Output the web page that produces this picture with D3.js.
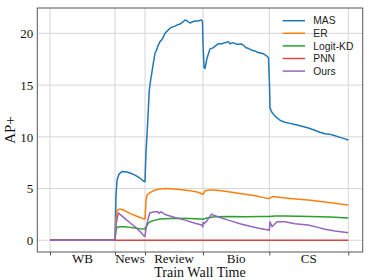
<!DOCTYPE html>
<html><head><meta charset="utf-8">
<script src="https://cdn.jsdelivr.net/npm/d3@7"></script>
<style>body{margin:0;background:#fff}svg{display:block}</style>
</head><body>
<svg id="c" width="374" height="280"></svg>
<script>
const boundaries = [0, 65, 95, 153, 219.3, 298.3];
const domains = ["WB", "News", "Review", "Bio", "CS"];
const yTicks = [0, 5, 10, 15, 20];
const seriesNames = ["MAS", "ER", "Logit-KD", "PNN", "Ours"];
const colors = ["#1f77b4", "#ff7f0e", "#2ca02c", "#d62728", "#9467bd"];

const MAS = [[0,0],[65,0],[66,4.3],[67,5.8],[69,6.4],[72,6.65],[77,6.6],[80,6.5],[85,6.3],[90,6.0],[94,5.7],[95,5.66],
[96,8.5],[97.3,10.7],[98.5,13],[99.3,14.5],[100.5,15.4],[101.7,16.1],[103,16.9],[105,18.1],[106.7,18.4],[108,18.8],[110,19.2],[112,19.4],[115,20.0],[117,20.2],[120,20.5],[122,20.6],[125,20.7],[127,20.8],[130,20.9],[133,21.1],[135,21.3],[137,21.2],[140,21.0],[142,21.1],[145,21.2],[148,21.2],[151.7,21.3],[152.5,21.1],
[153,19],[154,16.7],[155,16.6],[157,17.6],[160,18.5],[163,18.6],[168.3,19.0],[172,19.0],[175,19.1],[178.3,19.2],[180,19.0],[183,19.1],[185,19.0],[188,18.95],[191.7,18.97],[194,18.8],[196,18.6],[198.3,18.55],[201,18.4],[205,18.3],[208,18.15],[211.7,18.07],[214,18.0],[217.7,17.74],[218.5,17.6],
[219.5,15],[220,12.8],[221.7,12.4],[225,12.0],[230,11.6],[235,11.4],[240,11.3],[245,11.2],[253,11.0],[260,10.8],[266.7,10.56],[270,10.45],[275,10.3],[280,10.24],[285,10.1],[290,9.95],[295,9.8],[298.3,9.69]];

const ER = [[0,0],[65,0],[66,2.0],[67,2.9],[69,3.0],[71,3.0],[75,2.85],[80,2.6],[85,2.4],[90,2.2],[95,2.05],
[96,3.8],[97,4.38],[100,4.6],[105,4.86],[110,4.96],[115,5.0],[120,4.98],[130,4.9],[140,4.8],[148,4.65],[151.7,4.5],[153,4.44],
[155,4.8],[160,4.86],[165,4.85],[175,4.75],[185,4.6],[195,4.45],[205,4.3],[215,4.1],[219.3,4.05],
[222,4.2],[225,4.2],[240,4.05],[258,3.9],[275,3.7],[290,3.5],[298.3,3.41]];

const LogitKD = [[0,0],[65,0],[66,1.0],[67,1.26],[70,1.32],[75,1.32],[80,1.25],[85,1.18],[90,1.12],[95,1.1],
[96,1.3],[98,1.6],[100,1.8],[105,1.95],[110,2.06],[120,2.1],[125,2.12],[140,2.1],[150,2.06],[153,2.03],
[155,2.1],[160,2.2],[165,2.28],[180,2.3],[195,2.28],[210,2.3],[219.3,2.3],[225,2.35],[235,2.35],[260,2.3],[280,2.25],[298.3,2.15]];

const PNN = [[0,0],[298.3,0]];

const Ours = [[0,0],[65,0],[66,1.5],[68.3,2.65],[70,2.5],[75,2.1],[80,1.7],[85,1.3],[90,0.85],[94.3,0.4],[95,0.38],
[96,1.1],[97,1.64],[99,2.4],[100,2.67],[105,2.75],[108,2.77],[109,2.6],[111,2.75],[115,2.5],[125,2.2],[135,1.95],[145,1.65],[151.7,1.48],[152.8,1.3],
[153.2,1.75],[154,1.6],[157,1.9],[161.7,2.54],[163,2.45],[170,2.2],[180,1.9],[190,1.6],[200,1.35],[210,1.15],[218.3,1.0],[219.3,0.95],
[220,1.8],[222,1.32],[224,1.5],[227,1.8],[235,1.8],[245,1.6],[258,1.48],[268,1.25],[275,1.06],[285,0.9],[298.3,0.73]];

const allSeries = [MAS, ER, LogitKD, PNN, Ours];

const L = 37.3, R = 362.7, T = 8, B = 252;
const svg = d3.select("#c");
const x = d3.scaleLinear().domain([-12.7, 312.7]).range([L, R]);
const y = d3.scaleLinear().domain([-1.13, 22.45]).range([B, T]);
const serif = "Liberation Serif, Times New Roman, serif";

// grid
const g = svg.append("g");
g.selectAll("line.vg").data(boundaries).join("line")
  .attr("x1", d => x(d)).attr("x2", d => x(d)).attr("y1", T).attr("y2", B)
  .attr("stroke", "#d6d6d6").attr("stroke-width", 1);
g.selectAll("line.hg").data(yTicks).join("line")
  .attr("y1", d => y(d)).attr("y2", d => y(d)).attr("x1", L).attr("x2", R)
  .attr("stroke", "#d6d6d6").attr("stroke-width", 1);

// lines
const line = d3.line().x(d => x(d[0])).y(d => y(d[1]));
allSeries.forEach((s, i) => {
  svg.append("path").datum(s).attr("d", line)
    .attr("fill", "none").attr("stroke", colors[i]).attr("stroke-width", 1.5)
    .attr("stroke-opacity", i === 3 ? 0.85 : 1)
    .attr("stroke-linejoin", "round");
});

// frame
svg.append("rect").attr("x", L).attr("y", T).attr("width", R - L).attr("height", B - T)
  .attr("fill", "none").attr("stroke", "#555").attr("stroke-width", 1);

// bottom axis ticks (major at boundaries, no labels)
const xAxis = d3.axisBottom(x).tickValues(boundaries).tickFormat("").tickSize(3.5);
const ax = svg.append("g").attr("transform", `translate(0,${B})`).call(xAxis);
ax.select(".domain").remove();
ax.selectAll("line").attr("stroke", "#555");

// category labels at midpoints
const mids = domains.map((d, i) => (boundaries[i] + boundaries[i + 1]) / 2);
svg.selectAll("text.cat").data(domains).join("text")
  .attr("x", (d, i) => x(mids[i])).attr("y", 262.5)
  .attr("text-anchor", "middle")
  .attr("font-family", serif).attr("font-size", 13)
  .attr("fill", "#111").text(d => d);

// y axis labels
const yAxis = d3.axisLeft(y).tickValues(yTicks).tickSize(0).tickPadding(4);
const ay = svg.append("g").attr("transform", `translate(${L},0)`).call(yAxis);
ay.select(".domain").remove();
ay.selectAll("text").attr("font-family", serif)
  .attr("font-size", 13).attr("fill", "#111");

// axis titles
svg.append("text").attr("x", (L + R) / 2).attr("y", 277).attr("text-anchor", "middle")
  .attr("font-family", serif).attr("font-size", 14)
  .attr("fill", "#111").text("Train Wall Time");
svg.append("text").attr("transform", `translate(15,${(T + B) / 2}) rotate(-90)`)
  .attr("text-anchor", "middle")
  .attr("font-family", serif).attr("font-size", 15)
  .attr("fill", "#111").text("AP+");

// legend
const lg = svg.append("g");
seriesNames.forEach((n, i) => {
  const yy = 20.7 + i * 12.6;
  lg.append("line").attr("x1", 282.7).attr("x2", 305).attr("y1", yy).attr("y2", yy)
    .attr("stroke", colors[i]).attr("stroke-width", 1.5).attr("stroke-opacity", i === 3 ? 0.85 : 1);
  lg.append("text").attr("x", 313.3).attr("y", yy + 3.6)
    .attr("font-family", "Liberation Sans, Arial, sans-serif").attr("font-size", 10.3)
    .attr("fill", "#222").text(n);
});
</script>
</body></html>
